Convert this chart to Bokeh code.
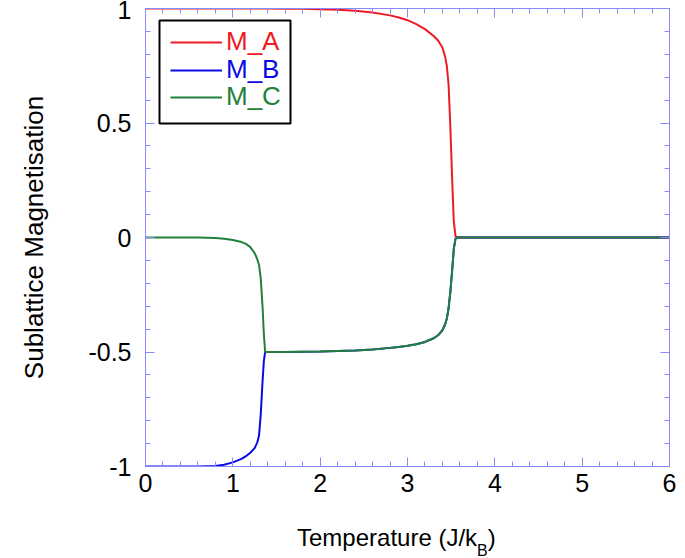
from bokeh.plotting import figure
from bokeh.models import (LinearAxis, SingleIntervalTicker, NumeralTickFormatter,
                          Legend, LegendItem, BoxAnnotation, ColumnDataSource, Range1d, Div)
from bokeh.layouts import column
from bokeh.embed import file_html
from bokeh.resources import INLINE

# ---- data ----
T = [0.0, 0.2, 0.4, 0.6, 0.8, 0.9, 1.0, 1.1, 1.15, 1.2, 1.25, 1.28, 1.3, 1.32, 1.34,
     1.355, 1.37, 1.4, 1.6, 1.8, 2.0, 2.2, 2.4, 2.6, 2.8, 2.9, 3.0, 3.1, 3.2, 3.3,
     3.35, 3.4, 3.43, 3.45, 3.47, 3.49, 3.51, 3.53, 3.55, 3.57, 3.6, 3.8, 4.0, 4.5,
     5.0, 5.5, 6.0]
M_A = [1.0, 1.0, 1.0, 1.0, 1.0, 1.0, 1.0, 1.0, 1.0, 1.0, 1.0, 1.0, 1.0, 1.0, 1.0,
       1.0, 1.0, 1.0, 0.999, 0.999, 0.997, 0.995, 0.99, 0.983, 0.97, 0.961, 0.949,
       0.932, 0.91, 0.88, 0.86, 0.83, 0.79, 0.75, 0.67, 0.49, 0.27, 0.07, 0.005, 0.0,
       0.0, 0.0, 0.0, 0.0, 0.0, 0.0, 0.0]
M_B = [-1.0, -1.0, -1.0, -1.0, -0.998, -0.992, -0.982, -0.967, -0.955, -0.94, -0.92,
       -0.895, -0.865, -0.77, -0.63, -0.54, -0.5, -0.5, -0.5, -0.499, -0.498, -0.496,
       -0.493, -0.489, -0.482, -0.478, -0.473, -0.466, -0.456, -0.44, -0.427, -0.405,
       -0.38, -0.355, -0.31, -0.24, -0.15, -0.05, -0.005, 0.0, 0.0, 0.0, 0.0, 0.0,
       0.0, 0.0, 0.0]
M_C = [0.0, 0.0, 0.0, 0.0, -0.002, -0.005, -0.011, -0.02, -0.028, -0.042, -0.068,
       -0.095, -0.12, -0.18, -0.3, -0.42, -0.5, -0.5, -0.5, -0.499, -0.498, -0.496,
       -0.493, -0.489, -0.482, -0.478, -0.473, -0.466, -0.456, -0.44, -0.427, -0.405,
       -0.38, -0.355, -0.31, -0.24, -0.15, -0.05, -0.005, 0.0, 0.0, 0.0, 0.0, 0.0,
       0.0, 0.0, 0.0]
series_names = ["M_A", "M_B", "M_C"]
series_colors = ["#ec1c24", "#0a0ae6", "#22803a"]
x_label = "Temperature (J/k"
x_label_sub = "B"
x_label_end = ")"
y_label = "Sublattice Magnetisation"

FRAME = "#8a8aff"
FONT = "Liberation Sans"

src = ColumnDataSource(dict(T=T, M_A=M_A, M_B=M_B, M_C=M_C))

p = figure(frame_width=524, frame_height=458, x_range=Range1d(0, 6), y_range=Range1d(-1, 1),
           output_backend="svg", toolbar_location=None,
           min_border_left=145, min_border_right=12, min_border_top=8, min_border_bottom=44)
p.grid.visible = False
p.outline_line_color = FRAME
p.background_fill_color = "white"
p.border_fill_color = "white"


def style(ax, ticker, labels=True):
    ax.ticker = ticker
    ax.axis_line_color = FRAME
    ax.major_tick_line_color = FRAME
    ax.minor_tick_line_color = FRAME
    ax.major_tick_in = 9
    ax.major_tick_out = 0
    ax.minor_tick_in = 5
    ax.minor_tick_out = 0
    ax.major_label_text_font = FONT
    ax.major_label_text_color = "black"
    if labels:
        ax.major_label_text_font_size = "25px"
    else:
        ax.major_label_text_font_size = "0px"
        ax.major_label_standoff = 0


xa = p.xaxis[0]
style(xa, SingleIntervalTicker(interval=1, num_minor_ticks=5))
xa.major_label_standoff = 7
xa.formatter = NumeralTickFormatter(format="0")

ya = p.yaxis[0]
style(ya, SingleIntervalTicker(interval=0.5, num_minor_ticks=5))
ya.major_label_standoff = 14
ya.formatter = NumeralTickFormatter(format="0.[0]")
ya.axis_label = y_label
ya.axis_label_text_font = FONT
ya.axis_label_text_font_size = "26px"
ya.axis_label_text_font_style = "normal"
ya.axis_label_text_color = "black"
ya.axis_label_standoff = 36

top_ax = LinearAxis()
style(top_ax, SingleIntervalTicker(interval=1, num_minor_ticks=5), labels=False)
p.add_layout(top_ax, "above")
right_ax = LinearAxis()
style(right_ax, SingleIntervalTicker(interval=0.5, num_minor_ticks=5), labels=False)
p.add_layout(right_ax, "right")

renderers = []
for name, col in zip(series_names, series_colors):
    r = p.line("T", name, source=src, line_color=col, line_width=2)
    renderers.append(r)

# legend: one single-item legend per series so each label keeps its own colour
row_bottoms = [409, 381, 354]
for r, name, col, yb in zip(renderers, series_names, series_colors, row_bottoms):
    lg = Legend(items=[LegendItem(label=name, renderers=[r])], location=(25, yb),
                glyph_width=52, glyph_height=20, label_height=20, label_standoff=4,
                padding=0, margin=0, spacing=0, border_line_color=None,
                background_fill_alpha=0, label_text_font=FONT,
                label_text_font_size="26px", label_text_color=col)
    p.add_layout(lg, "center")

box = BoxAnnotation(left=159, right=290, top=20, bottom=123,
                    left_units="canvas", right_units="canvas", top_units="canvas",
                    bottom_units="canvas", fill_color=None, fill_alpha=0,
                    line_color="black", line_alpha=1.0, line_width=2)
p.add_layout(box)

# x axis title with a real subscript
xlab = Div(text=(
    '<div style="padding-left:297px;padding-top:16px;font-family:\'Liberation Sans\';'
    'font-size:24px;color:black;white-space:nowrap;line-height:1">'
    f'{x_label}<span style="font-size:16px;position:relative;top:10px">{x_label_sub}</span>'
    f'{x_label_end}</div>'), width=681, height=46, margin=0)

root = column(p, xlab, spacing=0)
open("out.html", "w").write(file_html(root, INLINE))
